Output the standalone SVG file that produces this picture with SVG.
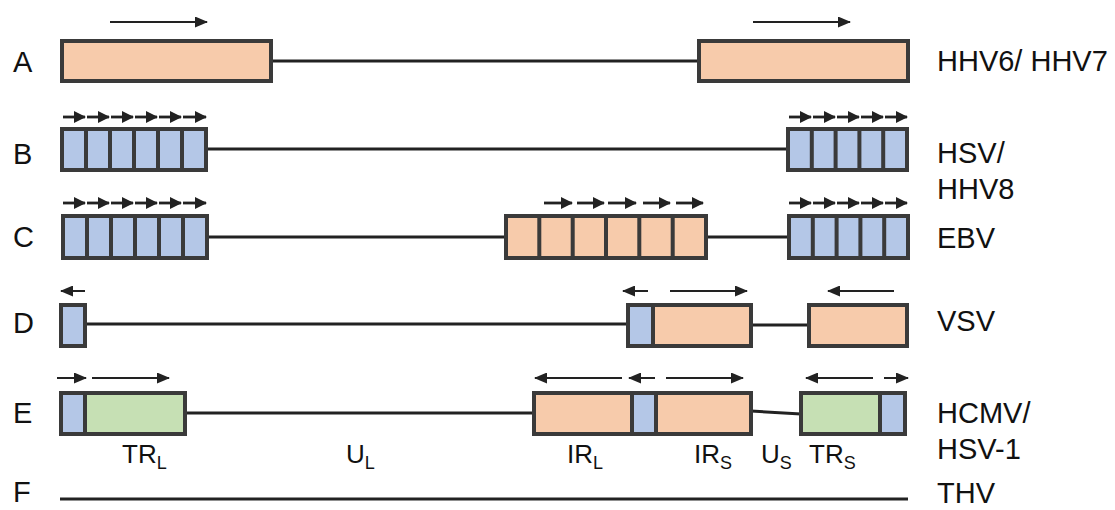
<svg xmlns="http://www.w3.org/2000/svg" width="1115" height="510" viewBox="0 0 1115 510">
<style>
.o{fill:#f7cbab}.b{fill:#b4c7e7}.g{fill:#c6e0b4}
.box{stroke:#3a3a3a;stroke-width:4}
.div{stroke:#3a3a3a;stroke-width:4}
.ln{stroke:#222;stroke-width:3;fill:none}
.ar{stroke:#222;stroke-width:2;fill:none;marker-end:url(#ah)}
.sa{stroke:#222;stroke-width:2.8;fill:none;marker-end:url(#sh)}
text{font-family:"Liberation Sans",Arial,sans-serif;fill:#111}
.lab{font-size:29px}
.seg{font-size:26px}
.sub{font-size:18px}
</style>
<defs>
<marker id="ah" markerUnits="userSpaceOnUse" markerWidth="13" markerHeight="11" refX="12" refY="5.5" orient="auto"><path d="M0,0 L13,5.5 L0,11 z" fill="#222"/></marker>
<marker id="sh" markerUnits="userSpaceOnUse" markerWidth="12" markerHeight="12" refX="11" refY="6" orient="auto"><path d="M0,0 L12,6 L0,12 z" fill="#222"/></marker>
</defs>
<rect width="1115" height="510" fill="#fff"/>
<g id="connectors">
<line class="ln" x1="271" y1="61" x2="699" y2="61"/>
<line class="ln" x1="206" y1="149" x2="788" y2="149"/>
<line class="ln" x1="207" y1="237" x2="506" y2="237"/>
<line class="ln" x1="706" y1="237" x2="789" y2="237"/>
<line class="ln" x1="85" y1="324" x2="628" y2="324"/>
<line class="ln" x1="751" y1="325" x2="809" y2="325"/>
<line class="ln" x1="185" y1="413" x2="534" y2="413"/>
<line class="ln" x1="751" y1="411" x2="801" y2="414"/>
<line class="ln" x1="60" y1="499" x2="908" y2="499"/>
</g>
<g id="rowA">
<rect class="box o" x="62" y="41" width="209" height="40"/>
<rect class="box o" x="699" y="41" width="209" height="40"/>
<line class="ar" x1="110" y1="22" x2="207" y2="22"/>
<line class="ar" x1="753" y1="22" x2="850" y2="22"/>
<text class="lab" x="13" y="72">A</text>
<text class="lab" x="937" y="71">HHV6/ HHV7</text>
</g>
<g id="rowB">
<rect class="box b" x="62" y="129" width="144" height="41"/>
<path class="div" d="M86,129V170M110,129V170M134,129V170M158,129V170M182,129V170"/>
<rect class="box b" x="788" y="129" width="119" height="41"/>
<path class="div" d="M811.8,129V170M835.6,129V170M859.4,129V170M883.2,129V170"/>
<line class="sa" x1="63" y1="117" x2="85" y2="117"/>
<line class="sa" x1="87" y1="117" x2="109" y2="117"/>
<line class="sa" x1="111" y1="117" x2="133" y2="117"/>
<line class="sa" x1="135" y1="117" x2="157" y2="117"/>
<line class="sa" x1="159" y1="117" x2="181" y2="117"/>
<line class="sa" x1="183" y1="117" x2="206" y2="117"/>
<line class="sa" x1="789" y1="117" x2="811" y2="117"/>
<line class="sa" x1="813" y1="117" x2="835" y2="117"/>
<line class="sa" x1="837" y1="117" x2="859" y2="117"/>
<line class="sa" x1="861" y1="117" x2="883" y2="117"/>
<line class="sa" x1="885" y1="117" x2="907" y2="117"/>
<text class="lab" x="13" y="164">B</text>
<text class="lab" x="937" y="163">HSV/</text>
<text class="lab" x="937" y="199">HHV8</text>
</g>
<g id="rowC">
<rect class="box b" x="63" y="216" width="144" height="42"/>
<path class="div" d="M87,216V258M111,216V258M135,216V258M159,216V258M183,216V258"/>
<rect class="box o" x="506" y="216" width="200" height="42"/>
<path class="div" d="M539.3,216V258M572.7,216V258M606,216V258M639.3,216V258M672.7,216V258"/>
<rect class="box b" x="789" y="216" width="119" height="42"/>
<path class="div" d="M812.8,216V258M836.6,216V258M860.4,216V258M884.2,216V258"/>
<line class="sa" x1="63" y1="203" x2="85" y2="203"/>
<line class="sa" x1="87" y1="203" x2="109" y2="203"/>
<line class="sa" x1="111" y1="203" x2="133" y2="203"/>
<line class="sa" x1="135" y1="203" x2="157" y2="203"/>
<line class="sa" x1="159" y1="203" x2="181" y2="203"/>
<line class="sa" x1="183" y1="203" x2="206" y2="203"/>
<line class="sa" x1="544" y1="203" x2="572" y2="203"/>
<line class="sa" x1="577" y1="203" x2="604" y2="203"/>
<line class="sa" x1="608" y1="203" x2="636" y2="203"/>
<line class="sa" x1="643" y1="203" x2="670" y2="203"/>
<line class="sa" x1="676" y1="203" x2="703" y2="203"/>
<line class="sa" x1="789" y1="203" x2="811" y2="203"/>
<line class="sa" x1="813" y1="203" x2="835" y2="203"/>
<line class="sa" x1="837" y1="203" x2="859" y2="203"/>
<line class="sa" x1="861" y1="203" x2="883" y2="203"/>
<line class="sa" x1="885" y1="203" x2="907" y2="203"/>
<text class="lab" x="13" y="247">C</text>
<text class="lab" x="937" y="248">EBV</text>
</g>
<g id="rowD">
<rect class="box b" x="61" y="305" width="24" height="41"/>
<rect class="box b" x="628" y="305" width="25" height="41"/>
<rect class="box o" x="653" y="305" width="98" height="41"/>
<rect class="box o" x="809" y="305" width="98" height="41"/>
<line class="ar" x1="85" y1="291" x2="61" y2="291"/>
<line class="ar" x1="648" y1="291" x2="623" y2="291"/>
<line class="ar" x1="670" y1="291" x2="747" y2="291"/>
<line class="ar" x1="894" y1="291" x2="828" y2="291"/>
<text class="lab" x="13" y="333">D</text>
<text class="lab" x="937" y="331">VSV</text>
</g>
<g id="rowE">
<rect class="box b" x="61" y="393" width="24" height="41"/>
<rect class="box g" x="85" y="393" width="100" height="41"/>
<rect class="box o" x="534" y="393" width="98" height="41"/>
<rect class="box b" x="632" y="393" width="24" height="41"/>
<rect class="box o" x="656" y="393" width="95" height="41"/>
<rect class="box g" x="801" y="393" width="79" height="41"/>
<rect class="box b" x="880" y="393" width="25" height="41"/>
<line class="ar" x1="57" y1="378" x2="86" y2="378"/>
<line class="ar" x1="92" y1="378" x2="169" y2="378"/>
<line class="ar" x1="622" y1="378" x2="535" y2="378"/>
<line class="ar" x1="655" y1="378" x2="629" y2="378"/>
<line class="ar" x1="666" y1="378" x2="743" y2="378"/>
<line class="ar" x1="873" y1="378" x2="806" y2="378"/>
<line class="ar" x1="884" y1="378" x2="908" y2="378"/>
<text class="lab" x="13" y="423">E</text>
<text class="lab" x="937" y="423">HCMV/</text>
<text class="lab" x="937" y="459">HSV-1</text>
<text class="seg" x="122" y="463">TR<tspan class="sub" dy="6">L</tspan></text>
<text class="seg" x="346" y="463">U<tspan class="sub" dy="6">L</tspan></text>
<text class="seg" x="567" y="463">IR<tspan class="sub" dy="6">L</tspan></text>
<text class="seg" x="694" y="463">IR<tspan class="sub" dy="6">S</tspan></text>
<text class="seg" x="761" y="463">U<tspan class="sub" dy="6">S</tspan></text>
<text class="seg" x="809" y="463">TR<tspan class="sub" dy="6">S</tspan></text>
</g>
<g id="rowF">
<text class="lab" x="13" y="502">F</text>
<text class="lab" x="937" y="503">THV</text>
</g>
</svg>
